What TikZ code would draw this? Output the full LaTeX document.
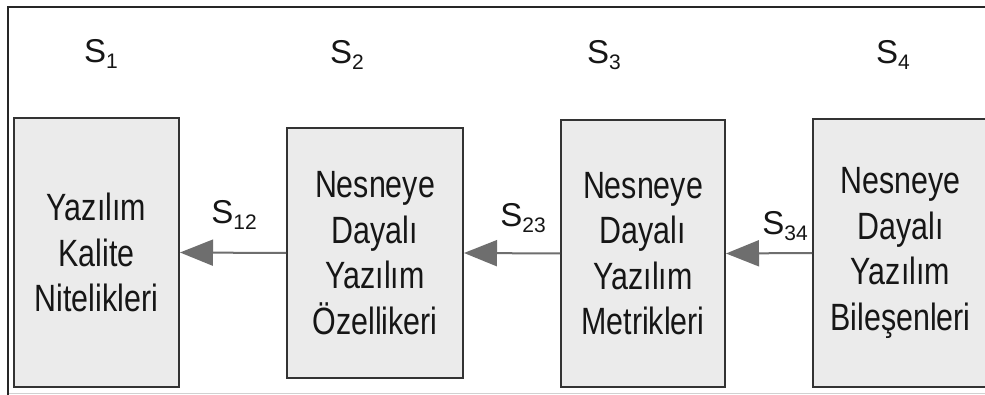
\documentclass[tikz,border=0pt]{standalone}
\usepackage{fontspec}
\setmainfont{Liberation Sans}
\newfontfamily\boxfont[FakeStretch=0.8]{Liberation Sans}
\usetikzlibrary{arrows.meta}
\definecolor{boxfill}{HTML}{EBEBEB}
\definecolor{boxline}{HTML}{333333}
\definecolor{txt}{HTML}{161616}
\definecolor{arr}{HTML}{6E6E6E}
\newcommand{\slab}[1]{S\raisebox{-6pt}{\fontsize{21}{21}\selectfont #1}}
\tikzset{
  stage/.style={draw=boxline, line width=2pt, fill=boxfill, text=txt,
    align=center, inner sep=0pt, font=\boxfont\fontsize{38}{45.5}\selectfont},
  slabel/.style={anchor=base, text=txt, inner sep=0pt, font=\fontsize{33}{33}\selectfont},
  flow/.style={draw=arr, line width=2pt, -{Triangle[length=33pt,width=26pt,fill=arr]}}
}
\begin{document}
\begin{tikzpicture}[x=1pt,y=-1pt]
\useasboundingbox (0,0) rectangle (985,395);
\clip (0,0) rectangle (985,395);
\fill[white] (0,0) rectangle (985,395);
% outer frame
\coordinate (fbl) at (8,395);
\coordinate (ftl) at (8,7);
\coordinate (ftr) at (985,7);
\coordinate (bl) at (9,393);
\coordinate (br) at (985,393);
\draw[line width=2pt, color=black!85] (fbl) -- (ftl) -- (ftr);
\draw[line width=1pt, color=black!18] (bl) -- (br);
% boxes
\node[stage, minimum width=165pt, minimum height=269pt] (b1) at (96.5,252.5) {Yazılım\\Kalite\\Nitelikleri};
\node[stage, minimum width=176pt, minimum height=250pt] (b2) at (375,253) {Nesneye\\Dayalı\\Yazılım\\Özellikeri};
\node[stage, minimum width=164pt, minimum height=267pt] (b3) at (643,253.5) {Nesneye\\Dayalı\\Yazılım\\Metrikleri};
\node[stage, minimum width=175pt, minimum height=268pt] (b4) at (900.5,253) {Nesneye\\Dayalı\\Yazılım\\Bileşenleri};
% arrows
\draw[flow] (b2.west) -- (b1.east);
\draw[flow] (b3.west) -- (b2.east);
\draw[flow] (b4.west) -- (b3.east);
% labels
\node[slabel] (s1) at (101,63) {\slab{1}};
\node[slabel] (s2) at (347,64) {\slab{2}};
\node[slabel] (s3) at (604,64) {\slab{3}};
\node[slabel] (s4) at (893,64) {\slab{4}};
\node[slabel] (s12) at (234,224) {\slab{12}};
\node[slabel] (s23) at (523,227) {\slab{23}};
\node[slabel] (s34) at (785,235) {\slab{34}};
\end{tikzpicture}
\end{document}
